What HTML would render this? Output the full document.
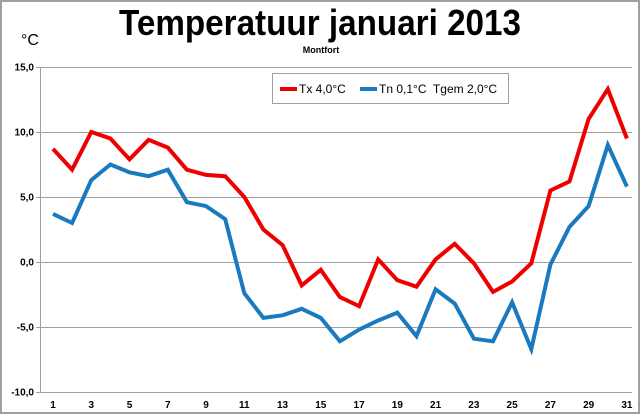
<!DOCTYPE html>
<html><head><meta charset="utf-8"><style>
html,body{margin:0;padding:0;background:#fff}
svg{display:block}
text{font-family:"Liberation Sans",Arial,sans-serif}
</style></head><body>
<svg id="s" width="640" height="414" xmlns="http://www.w3.org/2000/svg">
<rect x="1" y="1" width="638" height="412" fill="#fff" stroke="#a0a0a0" stroke-width="2"/>
<text x="320" y="35" text-anchor="middle" font-size="36" font-weight="bold" textLength="402" lengthAdjust="spacingAndGlyphs">Temperatuur januari 2013</text>
<text x="21" y="45" font-size="16">°C</text>
<text x="321" y="53" text-anchor="middle" font-size="9" font-weight="bold">Montfort</text>
<g id="grid" stroke="#a0a0a0" stroke-width="1"></g>
<line x1="40.5" y1="67" x2="40.5" y2="392" stroke="#a0a0a0"/>
<g id="labels" font-size="10" font-weight="bold" fill="#000"></g>
<polyline id="tx" fill="none" stroke="#ee0000" stroke-width="4" stroke-linejoin="miter"/>
<polyline id="tn" fill="none" stroke="#1a7abf" stroke-width="4" stroke-linejoin="miter"/>
<rect x="272.5" y="73.5" width="236" height="30" fill="#fff" stroke="#a0a0a0"/>
<line x1="280" y1="89" x2="297" y2="89" stroke="#ee0000" stroke-width="4"/>
<text x="299" y="93" font-size="12">Tx 4,0°C</text>
<line x1="360" y1="89" x2="377" y2="89" stroke="#1a7abf" stroke-width="4"/>
<text x="379" y="93" font-size="12" xml:space="preserve" style="white-space:pre">Tn 0,1°C  Tgem 2,0°C</text>
</svg>
<script>
var NS="http://www.w3.org/2000/svg";
var g=document.getElementById("grid"),L=document.getElementById("labels");
function Y(t){return 262-13*t;}
function X(d){return 53+19.13*(d-1);}
var yl=["15,0","10,0","5,0","0,0","-5,0","-10,0"];
for(var i=0;i<6;i++){var y=67+65*i+0.5;
 var l=document.createElementNS(NS,"line");l.setAttribute("x1",36);l.setAttribute("x2",632);l.setAttribute("y1",y);l.setAttribute("y2",y);g.appendChild(l);
 var t=document.createElementNS(NS,"text");t.setAttribute("x",34);t.setAttribute("y",y+3);t.setAttribute("text-anchor","end");t.textContent=yl[i];L.appendChild(t);}
for(var d=1;d<=31;d+=2){var t=document.createElementNS(NS,"text");t.setAttribute("x",X(d));t.setAttribute("y",408);t.setAttribute("text-anchor","middle");t.textContent=d;L.appendChild(t);}
var tx=[8.7,7.1,10.0,9.5,7.9,9.4,8.8,7.1,6.7,6.6,5.0,2.5,1.3,-1.8,-0.6,-2.7,-3.4,0.2,-1.4,-1.9,0.2,1.4,-0.1,-2.3,-1.5,-0.1,5.5,6.2,11.0,13.3,9.5];
var tn=[3.7,3.0,6.3,7.5,6.9,6.6,7.1,4.6,4.3,3.3,-2.4,-4.3,-4.1,-3.6,-4.3,-6.1,-5.2,-4.5,-3.9,-5.7,-2.1,-3.2,-5.9,-6.1,-3.1,-6.7,-0.2,2.7,4.3,9.0,5.8];
function pts(a){return a.map(function(v,i){return X(i+1).toFixed(1)+","+Y(v).toFixed(1);}).join(" ");}
document.getElementById("tx").setAttribute("points",pts(tx));
document.getElementById("tn").setAttribute("points",pts(tn));
</script>
</body></html>
